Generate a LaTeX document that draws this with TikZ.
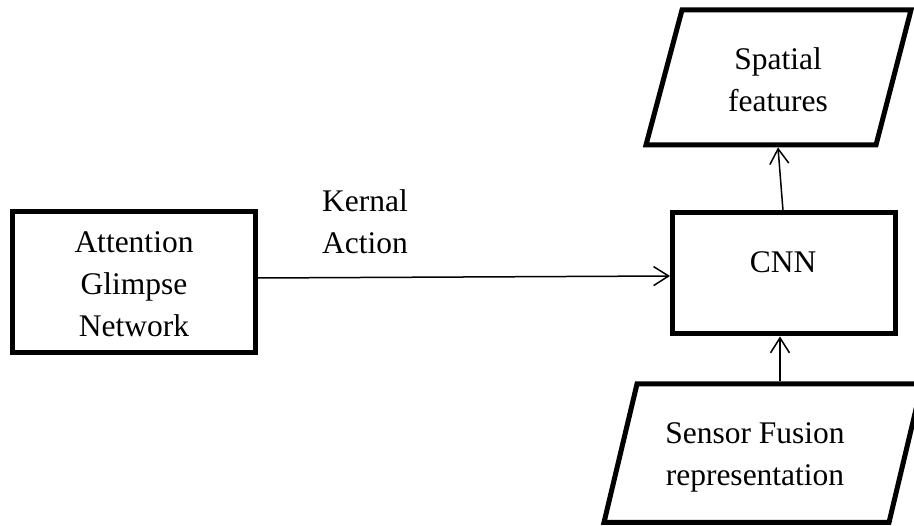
\documentclass[tikz,border=0pt]{standalone}
\usepackage{fontspec}
\setmainfont{Liberation Serif}
\usetikzlibrary{arrows.meta}
\begin{document}
\begin{tikzpicture}[x=1pt,y=-1pt,
  boxline/.style={line width=5pt,line join=miter},
  lbl/.style={align=center,inner sep=0pt,font=\fontsize{31.5}{42}\selectfont},
  arr/.style={line width=1.5pt,-{Straight Barb[length=15pt,width=19pt,line width=1.5pt]}}]
\useasboundingbox (0,0) rectangle (914,526);
\fill[white] (0,0) rectangle (914,526);
% Attention box
\draw[boxline] (12.5,211.5) rectangle (255.5,352.5);
\node[lbl] (att) at (134,284) {Attention\\Glimpse\\Network};
% CNN box
\draw[boxline] (672.5,213) rectangle (895.5,334);
\node[lbl] (cnn) at (783,262) {CNN};
% Spatial features
\draw[boxline] (682,10) -- (911,10) -- (876,145) -- (646,145) -- cycle;
\node[lbl] (sf) at (778,80) {Spatial\\features};
% Sensor fusion
\draw[boxline] (637,384) -- (922,384) -- (889,522.5) -- (604,522.5) -- cycle;
\node[lbl] (sen) at (755,457) {Sensor Fusion\\representation};
% Kernal Action label
\node[lbl] (ka) at (365,222) {Kernal\\Action};
% connector end points
\coordinate (attR) at (258,278);
\coordinate (cnnL) at (670,276);
\coordinate (cnnT) at (783,210.5);
\coordinate (sfB) at (778,147.5);
\coordinate (senT) at (780,381.5);
\coordinate (cnnB) at (780,336.5);
\draw[arr] (attR) -- (cnnL);
\draw[arr] (cnnT) -- (sfB);
\draw[arr] (senT) -- (cnnB);
\end{tikzpicture}
\end{document}
